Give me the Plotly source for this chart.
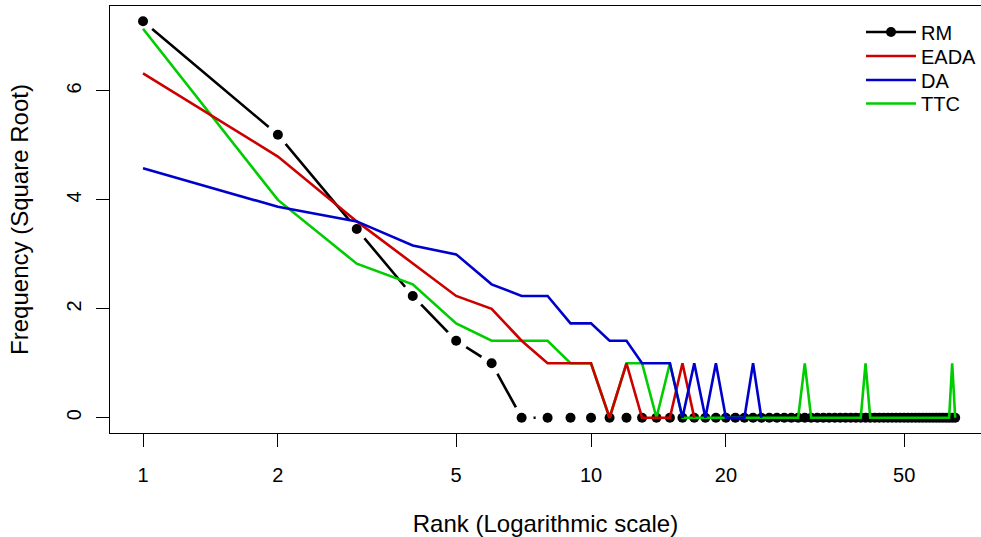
import numpy as np
import plotly.graph_objects as go

# Rank positions (1..65) and counts per rank (plotted as square roots)
ranks = list(range(1, 66))

rm_counts = [53, 27, 12, 5, 2, 1, 0, 0, 0, 0,
             0, 0, 0, 0, 0, 0, 0, 0, 0, 0,
             0, 0, 0, 0, 0, 0, 0, 0, 0, 0,
             0, 0, 0, 0, 0, 0, 0, 0, 0, 0,
             0, 0, 0, 0, 0, 0, 0, 0, 0, 0,
             0, 0, 0, 0, 0, 0, 0, 0, 0, 0,
             0, 0, 0, 0, 0]

eada_counts = [40, 23, 13, 8, 5, 4, 2, 1, 1, 1,
               0, 1, 0, 0, 0, 1, 0]

da_counts = [21, 15, 13, 10, 9, 6, 5, 5, 3, 3,
             2, 2, 1, 1, 1, 0, 1, 0, 1, 0,
             0, 0, 1, 0]

ttc_counts = [51, 16, 8, 6, 3, 2, 2, 2, 1, 1,
              0, 1, 1, 0, 1, 0, 0, 0, 0, 0,
              0, 0, 0, 0, 0, 0, 0, 0, 0, 1,
              0, 0, 0, 0, 0, 0, 0, 0, 0, 0,
              1, 0, 0, 0, 0, 0, 0, 0, 0, 0,
              0, 0, 0, 0, 0, 0, 0, 0, 0, 0,
              0, 0, 0, 1, 0]

series_names = ["RM", "EADA", "DA", "TTC"]
x_tick_vals = [1, 2, 5, 10, 20, 50]
y_tick_vals = [0, 2, 4, 6]

FONT = "Liberation Sans, Arial, sans-serif"
BLACK = "#000000"
RED = "#CD0000"
BLUE = "#0000CD"
GREEN = "#00CD00"
LW = 2.6

rm_y = np.sqrt(rm_counts)
eada_y = np.sqrt(eada_counts)
da_y = np.sqrt(da_counts)
ttc_y = np.sqrt(ttc_counts)

fig = go.Figure()

# RM: line with white halos around points (R type="b" gaps)
fig.add_trace(go.Scatter(
    x=ranks, y=rm_y, mode="lines+markers",
    line=dict(color=BLACK, width=LW),
    marker=dict(color="white", size=24, line=dict(width=0)),
    showlegend=False, hoverinfo="skip"))
fig.add_trace(go.Scatter(
    x=ranks, y=rm_y, mode="markers",
    marker=dict(color=BLACK, size=10, line=dict(width=0)),
    showlegend=False, name=series_names[0]))
# legend entry for RM
fig.add_trace(go.Scatter(
    x=[None], y=[None], mode="lines+markers", name=series_names[0],
    line=dict(color=BLACK, width=LW),
    marker=dict(color=BLACK, size=10), legend="legend"))

fig.add_trace(go.Scatter(
    x=ranks[:len(ttc_y)], y=ttc_y, mode="lines", name=series_names[3],
    line=dict(color=GREEN, width=LW), legend="legend4"))
fig.add_trace(go.Scatter(
    x=ranks[:len(eada_y)], y=eada_y, mode="lines", name=series_names[1],
    line=dict(color=RED, width=LW), legend="legend2"))
fig.add_trace(go.Scatter(
    x=ranks[:len(da_y)], y=da_y, mode="lines", name=series_names[2],
    line=dict(color=BLUE, width=LW), legend="legend3"))

W, H = 981, 537
left, top, bottom = 110, 6, 104


def leg(ypix):
    return dict(
        xref="container", yref="container",
        x=861 / W, y=1 - ypix / H, xanchor="left", yanchor="middle",
        bgcolor="rgba(0,0,0,0)", borderwidth=0,
        font=dict(size=20), itemwidth=50)


fig.update_layout(
    width=W, height=H,
    margin=dict(l=left, r=0, t=top, b=bottom, pad=0, autoexpand=False),
    paper_bgcolor="white", plot_bgcolor="white",
    font=dict(family=FONT, size=20, color=BLACK),
    legend=leg(32), legend2=leg(56), legend3=leg(80), legend4=leg(103.5),
    xaxis=dict(
        type="log",
        range=[-0.0737, 1.8705],
        tickvals=x_tick_vals,
        ticktext=[str(v) for v in x_tick_vals],
        ticks="outside", ticklen=13, tickwidth=1.3, tickcolor=BLACK,
        showline=True, linecolor=BLACK, linewidth=1.3, mirror=True,
        showgrid=False, zeroline=False, automargin=False,
        ticklabelstandoff=11,
        title=dict(text="Rank (Logarithmic scale)", standoff=36),
    ),
    yaxis=dict(
        range=[-0.28, 7.56],
        tickvals=y_tick_vals,
        ticktext=[str(v) for v in y_tick_vals],
        tickangle=-90,
        ticks="outside", ticklen=13, tickwidth=1.3, tickcolor=BLACK,
        showline=True, linecolor=BLACK, linewidth=1.3, mirror=False,
        showgrid=False, zeroline=False, automargin=False,
        ticklabelstandoff=7,
        title=dict(text="Frequency (Square Root)", standoff=27),
    ),
)

fig.write_html("out.html",
               config={"displayModeBar": False},
               post_script="document.body.style.margin='0';"
                           "document.body.style.padding='0';")
